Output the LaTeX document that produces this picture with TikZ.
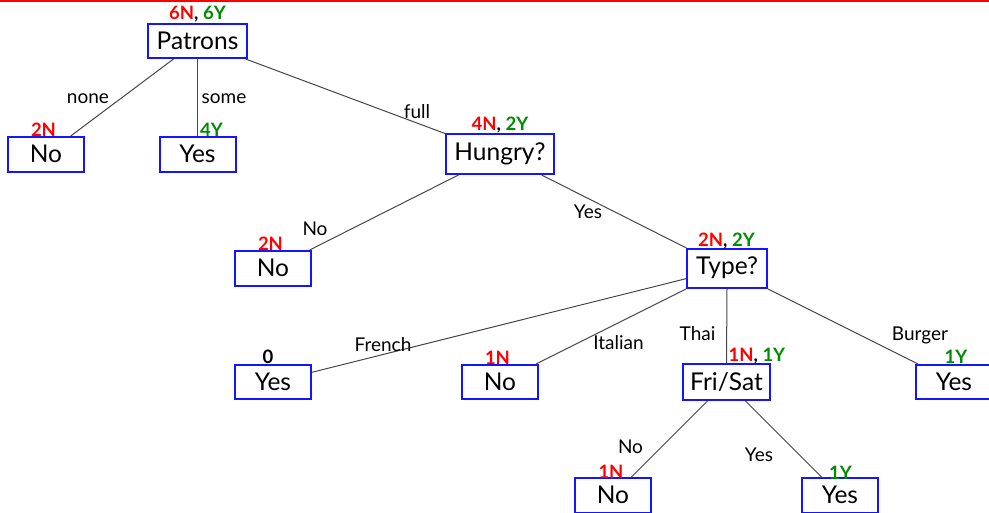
\documentclass[tikz,border=0pt]{standalone}
\usepackage{fontspec}
\setmainfont{Lato}
\definecolor{boxblue}{RGB}{20,20,255}
\definecolor{cntred}{RGB}{255,0,0}
\definecolor{cntgreen}{RGB}{0,140,0}
\definecolor{edgegray}{RGB}{70,70,70}
\begin{document}
\begin{tikzpicture}[x=1pt,y=-1pt,
  box/.style={draw=boxblue,line width=2pt,inner sep=0pt,minimum width=76pt,minimum height=35pt,
    font=\fontsize{24.5}{28}\selectfont,text height=17pt,text depth=1pt},
  edge/.style={draw=edgegray,line width=1pt},
  elab/.style={inner sep=0pt,font=\fontsize{19}{22}\selectfont,text height=13pt,text depth=0pt},
  cnt/.style={inner sep=0pt,font=\bfseries\fontsize{18.5}{22}\selectfont,text height=12pt,text depth=0pt}]
\useasboundingbox (0,0) rectangle (989,512);
\clip (0,0) rectangle (989,512);
\fill[cntred] (0,0) rectangle (989,1.6);
% boxes
\node[box,minimum width=99pt,minimum height=34pt] (P) at (197.5,41) {Patrons};
\node[box] (N1) at (46,154.5) {No};
\node[box] (Y1) at (197.5,154.5) {Yes};
\node[box,minimum width=108pt,minimum height=40pt,text depth=5pt] (H) at (500,154) {Hungry?};
\node[box] (N2) at (273,268.5) {No};
\node[box,minimum width=80pt,minimum height=39pt,text depth=5pt] (T) at (727,268.5) {Type?};
\node[box,minimum height=34pt] (Y3) at (273,382) {Yes};
\node[box,minimum height=34pt] (N3) at (500,382) {No};
\node[box,minimum width=87pt,minimum height=36pt] (F) at (726.5,382) {Fri/Sat};
\node[box,minimum height=34pt] (Y4) at (954,382) {Yes};
\node[box] (N4) at (613,495.5) {No};
\node[box] (Y5) at (840,495.5) {Yes};
% edges
\draw[edge] (P) -- (N1);
\draw[edge] (P.south) -- (Y1.north);
\draw[edge] (P) -- (H);
\draw[edge] (H) -- (N2);
\draw[edge] (H) -- (T);
\draw[edge] (T) -- (Y3);
\draw[edge] (T) -- (N3);
\draw[edge] (T.south) -- (F.north);
\draw[edge] (T) -- (Y4);
\draw[edge] (F) -- (N4);
\draw[edge] (F) -- (Y5);
% edge labels
\node[elab] (l1) at (88,97) {none};
\node[elab] (l2) at (224,97) {some};
\node[elab] (l3) at (417,112) {full};
\node[elab] (l4) at (315,229) {No};
\node[elab] (l5) at (588,212) {Yes};
\node[elab] (l6) at (383,345) {French};
\node[elab] (l7) at (618.5,343) {Italian};
\node[elab] (l8) at (697.5,334) {Thai};
\node[elab] (l9) at (920,334) {Burger};
\node[elab] (l10) at (630.5,447) {No};
\node[elab] (l11) at (759,455) {Yes};
% counts
\node[cnt] (c1) at (197.5,13) {\textcolor{cntred}{6N}, \textcolor{cntgreen}{6Y}};
\node[cnt] (c2) at (43.5,130) {\textcolor{cntred}{2N}};
\node[cnt,anchor=west] (c3) at (200,130) {\textcolor{cntgreen}{4Y}};
\node[cnt] (c4) at (500,124) {\textcolor{cntred}{4N}, \textcolor{cntgreen}{2Y}};
\node[cnt] (c5) at (270.5,244) {\textcolor{cntred}{2N}};
\node[cnt] (c6) at (726.5,240) {\textcolor{cntred}{2N}, \textcolor{cntgreen}{2Y}};
\node[cnt] (c7) at (268,357) {0};
\node[cnt] (c8) at (497.5,358) {\textcolor{cntred}{1N}};
\node[cnt,anchor=west] (c9) at (728.5,355) {\textcolor{cntred}{1N}, \textcolor{cntgreen}{1Y}};
\node[cnt] (c10) at (956,357) {\textcolor{cntgreen}{1Y}};
\node[cnt] (c11) at (611,472) {\textcolor{cntred}{1N}};
\node[cnt] (c12) at (840.5,473) {\textcolor{cntgreen}{1Y}};
\end{tikzpicture}
\end{document}
